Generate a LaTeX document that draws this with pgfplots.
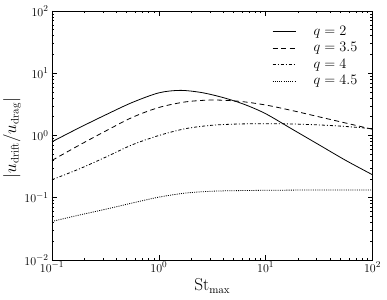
\documentclass[border=0pt]{standalone}
\usepackage{pgfplots}
\pgfplotsset{compat=1.18}
\usetikzlibrary{calc}
\begin{document}
\begin{tikzpicture}
\begin{axis}[
  scale only axis,
  width=320.5pt, height=249pt,
  xmode=log, ymode=log,
  xmin=0.1, xmax=100, ymin=0.01, ymax=100,
  axis line style={line width=0.8pt},
  tick align=inside,
  xtick pos=both, ytick pos=both,
  major tick length=5pt, minor tick length=2.5pt,
  every tick/.style={black, line width=0.6pt},
  tick label style={font=\fontsize{13}{15}\selectfont},
  xticklabel style={yshift=1.5pt},
  xlabel={$\mathrm{St}_{\max}$},
  ylabel={$|u_{\mathrm{drift}}/u_{\mathrm{drag}}|$},
  every axis y label/.style={at={(rel axis cs:0,0.49)}, xshift=-31pt, rotate=90, anchor=south, inner sep=0pt,
    font=\fontsize{16}{19}\selectfont},
  xlabel style={font=\fontsize{16}{19}\selectfont},
  legend style={draw=none, fill=none, inner sep=0pt, at={(rel axis cs:0.6864,0.943)}, anchor=north west,
    font=\fontsize{14.5}{16}\selectfont, row sep=3.4pt, column sep=17.7pt,
    nodes={inner sep=0pt, text height=10pt, text depth=3pt}},
  legend cell align=left,
  legend image code/.code={\draw[#1] (0pt,0pt) -- (23pt,0pt);},
]
\addplot[black, line width=0.8pt, smooth] coordinates {
(0.1,0.794) (0.1778,1.318) (0.3162,2.138) (0.5623,3.388) (1,4.842) (1.585,5.309)
(2.512,4.898) (3.981,4.074) (6.310,3.162) (10,2.239) (17.78,1.259) (31.62,0.708)
(56.23,0.398) (100,0.234)};
\addlegendentry{$q=2$}
\addplot[black, line width=0.8pt, smooth, dash pattern=on 5pt off 3.5pt] coordinates {
(0.1,0.398) (0.1778,0.692) (0.3162,1.175) (0.5623,1.950) (1,2.818) (1.778,3.467)
(3.162,3.715) (5.623,3.548) (10,3.090) (17.78,2.512) (31.62,1.995) (56.23,1.585) (100,1.259)};
\addlegendentry{$q=3.5$}
\addplot[black, line width=0.8pt, smooth, dash pattern=on 3pt off 2pt on 1pt off 2pt] coordinates {
(0.1,0.195) (0.1778,0.288) (0.3162,0.447) (0.5623,0.708) (1,1.0) (1.778,1.288)
(3.162,1.462) (5.623,1.531) (10,1.549) (17.78,1.531) (31.62,1.479) (56.23,1.396) (100,1.288)};
\addlegendentry{$q=4$}
\addplot[black, line width=0.8pt, smooth, dash pattern=on 1pt off 1.2pt] coordinates {
(0.1,0.0417) (0.1778,0.0525) (0.3162,0.0653) (0.5623,0.0822) (1,0.1023) (1.778,0.1189)
(3.162,0.1274) (5.623,0.1303) (10,0.1318) (17.78,0.1327) (31.62,0.1334) (56.23,0.1334) (100,0.1334)};
\addlegendentry{$q=4.5$}
\coordinate (SW) at (rel axis cs:0,0);
\coordinate (NE) at (rel axis cs:1,1);
\end{axis}
\pgfresetboundingbox
\path[use as bounding box] ($(SW)+(-52pt,-39pt)$) rectangle ($(NE)+(14.5pt,11pt)$);
\end{tikzpicture}
\end{document}
